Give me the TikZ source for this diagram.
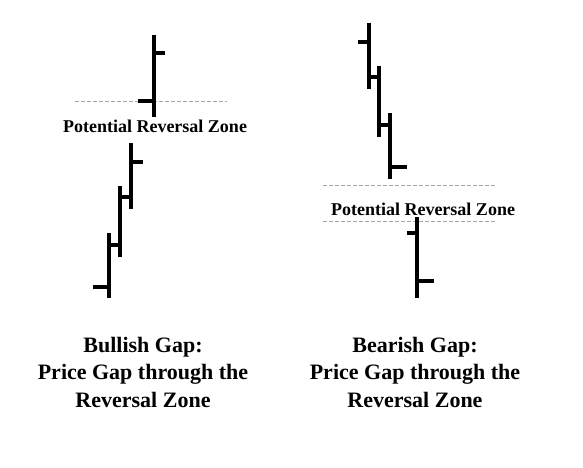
\documentclass[tikz,border=0pt]{standalone}
\usepackage{fontspec}
\setmainfont{Liberation Serif}
\begin{document}
\begin{tikzpicture}[x=1pt,y=-1pt,
  bar/.style={line width=3.2pt},
  zone/.style={gray!70,line width=0.8pt,dash pattern=on 4pt off 2pt},
  zonelabel/.style={font=\fontsize{18}{20}\selectfont\bfseries,inner sep=0pt},
  caption/.style={font=\fontsize{22}{27.5}\selectfont\bfseries,align=center,inner sep=0pt}]
\useasboundingbox (0,0) rectangle (583,467);
% ---- Bullish (left) ----
\draw[zone] (75,101) -- (227,101);
\draw[bar] (154,35) -- (154,117);
\draw[bar] (154,53) -- (165,53);
\draw[bar] (138,101) -- (154,101);
\node[zonelabel] (lz) at (155,126) {Potential Reversal Zone};
\draw[bar] (131,143) -- (131,209);
\draw[bar] (131,162) -- (143,162);
\draw[bar] (120,197) -- (131,197);
\draw[bar] (120,186) -- (120,257);
\draw[bar] (109,245) -- (120,245);
\draw[bar] (109,233) -- (109,298);
\draw[bar] (93,287) -- (109,287);
\node[caption] (lc) at (143,372) {Bullish Gap:\\Price Gap through the\\Reversal Zone};
% ---- Bearish (right) ----
\draw[bar] (369,23) -- (369,89);
\draw[bar] (358,42) -- (369,42);
\draw[bar] (379,66) -- (379,137);
\draw[bar] (369,77) -- (379,77);
\draw[bar] (390,113) -- (390,179);
\draw[bar] (379,125) -- (390,125);
\draw[bar] (390,167) -- (407,167);
\draw[zone] (323,185) -- (495,185);
\node[zonelabel] (rz) at (423,209) {Potential Reversal Zone};
\draw[zone] (323,221) -- (495,221);
\draw[bar] (417,217) -- (417,298);
\draw[bar] (407,233) -- (417,233);
\draw[bar] (417,281) -- (434,281);
\node[caption] (rc) at (415,372) {Bearish Gap:\\Price Gap through the\\Reversal Zone};
\end{tikzpicture}
\end{document}
